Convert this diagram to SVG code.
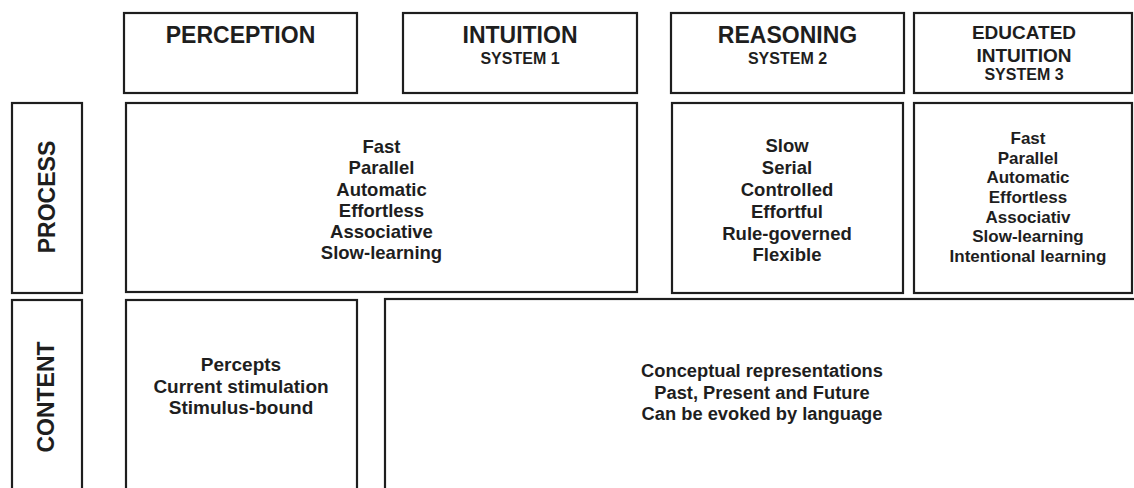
<svg xmlns="http://www.w3.org/2000/svg" width="1134" height="488" viewBox="0 0 1134 488">
<style>
.box{fill:#fff;stroke:#1e1e1e;stroke-width:2.2}
text{font-family:"Liberation Sans",Arial,sans-serif;font-weight:bold;fill:#1e1e1e;text-anchor:middle}
.h{font-size:23px}
.s{font-size:16px}
.e{font-size:19px}
.p{font-size:18.5px}
.q{font-size:17px}
.c{font-size:19px}
.n{font-size:18.3px}
.lab{font-size:23px}
</style>
<rect width="1134" height="488" fill="#fff"/>
<g id="hdr-perception"><rect class="box" x="124" y="13" width="233" height="80"/><text class="h" x="240.5" y="43">PERCEPTION</text></g>
<g id="hdr-intuition"><rect class="box" x="403" y="13" width="234" height="80"/><text class="h" x="520" y="43">INTUITION</text><text class="s" x="520" y="64">SYSTEM 1</text></g>
<g id="hdr-reasoning"><rect class="box" x="671" y="13" width="233" height="80"/><text class="h" x="787.5" y="43">REASONING</text><text class="s" x="787.5" y="64">SYSTEM 2</text></g>
<g id="hdr-educated"><rect class="box" x="914" y="13" width="218" height="80"/><text class="e" x="1024" y="39">EDUCATED</text><text class="e" x="1024" y="62">INTUITION</text><text class="s" x="1024" y="80">SYSTEM 3</text></g>
<g id="lbl-process"><rect class="box" x="12" y="103" width="70" height="190"/><text class="lab" transform="translate(55,197) rotate(-90)">PROCESS</text></g>
<g id="proc-intuition"><rect class="box" x="126" y="103" width="511" height="189"/>
<text class="p" x="381.5" y="153">Fast</text><text class="p" x="381.5" y="174">Parallel</text><text class="p" x="381.5" y="195.5">Automatic</text><text class="p" x="381.5" y="217">Effortless</text><text class="p" x="381.5" y="238">Associative</text><text class="p" x="381.5" y="259">Slow-learning</text></g>
<g id="proc-reasoning"><rect class="box" x="672" y="103" width="231" height="190"/>
<text class="p" x="787" y="152">Slow</text><text class="p" x="787" y="174">Serial</text><text class="p" x="787" y="196">Controlled</text><text class="p" x="787" y="218">Effortful</text><text class="p" x="787" y="240">Rule-governed</text><text class="p" x="787" y="261">Flexible</text></g>
<g id="proc-educated"><rect class="box" x="914" y="103" width="218" height="190"/>
<text class="q" x="1028" y="144">Fast</text><text class="q" x="1028" y="163.5">Parallel</text><text class="q" x="1028" y="183">Automatic</text><text class="q" x="1028" y="203">Effortless</text><text class="q" x="1028" y="222.5">Associativ</text><text class="q" x="1028" y="242">Slow-learning</text><text class="q" x="1028" y="262">Intentional learning</text></g>
<g id="lbl-content"><rect class="box" x="12" y="300" width="70" height="200"/><text class="lab" transform="translate(54,397) rotate(-90)">CONTENT</text></g>
<g id="cont-perception"><rect class="box" x="126" y="300" width="231" height="200"/>
<text class="c" x="241" y="371">Percepts</text><text class="c" x="241" y="393">Current stimulation</text><text class="c" x="241" y="414">Stimulus-bound</text></g>
<g id="cont-conceptual"><rect class="box" x="385" y="299" width="760" height="201"/>
<text class="n" x="762" y="377">Conceptual representations</text>
<text class="n" x="762" y="399">Past, Present and Future</text>
<text class="n" x="762" y="420">Can be evoked by language</text></g>
<g id="connectors"></g>
</svg>
